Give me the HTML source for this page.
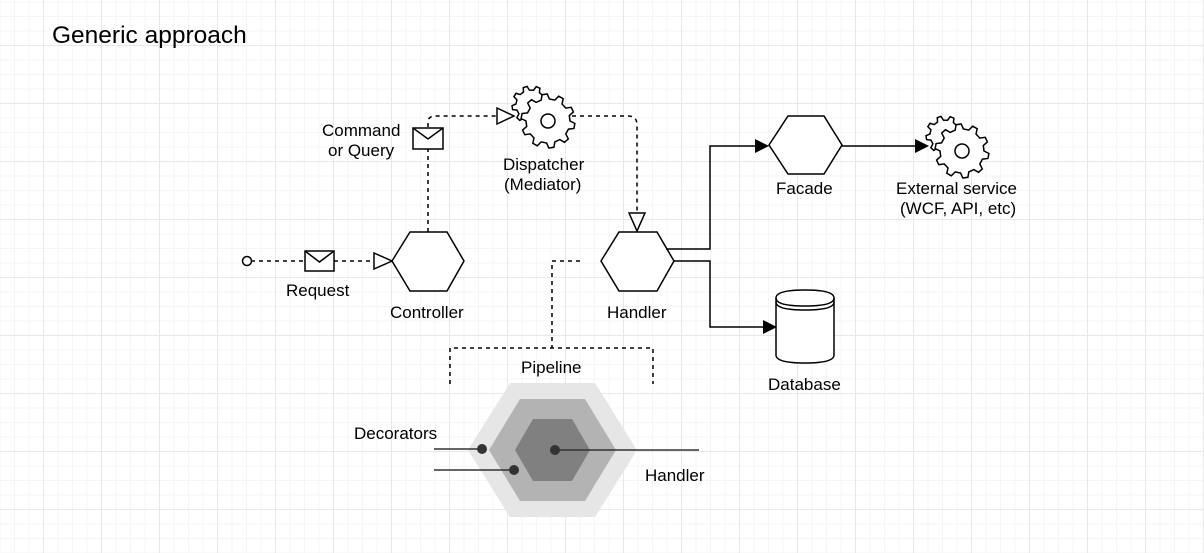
<!DOCTYPE html>
<html><head><meta charset="utf-8"><style>
html,body{margin:0;padding:0}
body{width:1204px;height:553px;overflow:hidden;background:#fff;
background-image:linear-gradient(#e8e8e8 1px,transparent 1px),linear-gradient(90deg,#e8e8e8 1px,transparent 1px),linear-gradient(#f5f5f5 1px,transparent 1px),linear-gradient(90deg,#f5f5f5 1px,transparent 1px);
background-size:58px 58px,58px 58px,14.5px 14.5px,14.5px 14.5px;background-position:43px 45px,43px 45px,43px 45px,43px 45px;font-family:"Liberation Sans",sans-serif}
svg{position:absolute;left:0;top:0}
text{font-family:"Liberation Sans",sans-serif;font-size:17px;fill:#000}
</style></head><body>
<svg width="1204" height="553" viewBox="0 0 1204 553">
<text x="52" y="43" style="font-size:24.5px">Generic approach</text>
<g fill="none" stroke="#000" stroke-width="1.5" stroke-dasharray="4 4">
<path d="M251 261 H305 M334 261 H374"/>
<path d="M428 232 V149 M428 127 V122 Q428 116 436 116 H497"/>
<path d="M572 116 H628 Q637 116 637 125 V213"/>
<path d="M580 261 H552 V348 M450 384 V348 H653 V384"/>
</g>
<circle cx="247" cy="261" r="4.5" fill="#fff" stroke="#000" stroke-width="1.5"/>
<g fill="#fff" stroke="#000" stroke-width="1.5">
<rect x="305" y="251" width="29" height="20"/><path d="M305 251 L319.5 262 L334 251" fill="none"/>
<rect x="413" y="128" width="30" height="21"/><path d="M413 128 L428 139 L443 128" fill="none"/>
<path d="M374 253 L392 261 L374 269 Z"/>
<path d="M497 108 L514 116 L497 124 Z"/>
<path d="M629 213 L637 231 L645 213 Z"/>
<path d="M392 261 L410 232 L447 232 L464 261 L447 291 L410 291 Z"/>
<path d="M601 261 L619 232 L657 232 L674 261 L657 291 L619 291 Z"/>
<path d="M769 145 L788 116 L824 116 L842 145 L824 174 L788 174 Z"/>
</g>
<g fill="none" stroke="#000" stroke-width="1.5">
<path d="M666 249 H710 V146 H755"/>
<path d="M674 261 H710 V327 H763"/>
<path d="M842 146 H915"/>
</g>
<path d="M755 139 L769 146 L755 153 Z M763 320 L777 327 L763 334 Z M915 139 L929 146 L915 153 Z" fill="#000"/>
<g fill="#fff" stroke="#000" stroke-width="1.5">
<path d="M776 298 Q776 290 805 290 Q834 290 834 298 V355 Q834 363 805 363 Q776 363 776 355 Z"/>
<path d="M776 298 Q776 306 805 306 Q834 306 834 298 M776 302 Q776 310 805 310 Q834 310 834 302" fill="none"/>
</g>
<g id="gears"></g>
<polygon points="468,450 510,383 595,383 637,450 595,517 510,517" fill="#e6e6e6"/>
<polygon points="489,450 520,399 585,399 616,450 585,501 520,501" fill="#b3b3b3"/>
<polygon points="515,450 533,419 572,419 590,450 572,481 533,481" fill="#808080"/>
<g stroke="#333" stroke-width="1.5"><path d="M434 449 H482 M434 470 H514 M555 450 H699"/></g>
<g fill="#333"><circle cx="482" cy="449" r="5"/><circle cx="514" cy="470" r="5"/><circle cx="555" cy="450" r="5"/></g>
<text x="322" y="136">Command</text><text x="328" y="156">or Query</text>
<text x="503" y="170">Dispatcher</text><text x="504" y="190">(Mediator)</text>
<text x="286" y="296">Request</text>
<text x="390" y="318">Controller</text>
<text x="607" y="318">Handler</text>
<text x="776" y="194">Facade</text>
<text x="896" y="194">External service</text><text x="900" y="214">(WCF, API, etc)</text>
<text x="768" y="390">Database</text>
<text x="521" y="373">Pipeline</text>
<text x="354" y="439">Decorators</text>
<text x="645" y="481">Handler</text>
</svg>
<script>
function gear(cx,cy,r1,r2,n){var d="",s=Math.PI*2/n;for(var i=0;i<n;i++){var a=i*s;
var pts=[[r1,a],[r2,a+s*0.15],[r2,a+s*0.45],[r1,a+s*0.6]];
pts.forEach(function(p,j){var x=cx+p[0]*Math.cos(p[1]),y=cy+p[0]*Math.sin(p[1]);d+=(i==0&&j==0?"M":"L")+x.toFixed(1)+" "+y.toFixed(1)+" ";});}
return d+"Z";}
var g=document.getElementById("gears"),h="";
[[545,117],[959,147]].forEach(function(c){var x=c[0],y=c[1];
h+='<path d="'+gear(x-14,y-12,15,19,9)+'" fill="#fff" stroke="#000" stroke-width="1.5"/>';
h+='<path d="'+gear(x+3,y+4,22,27,10)+'" fill="#fff" stroke="#000" stroke-width="1.5"/>';
h+='<circle cx="'+(x+3)+'" cy="'+(y+4)+'" r="7" fill="#fff" stroke="#000" stroke-width="1.5"/>';});
g.innerHTML=h;
</script>
</body></html>
